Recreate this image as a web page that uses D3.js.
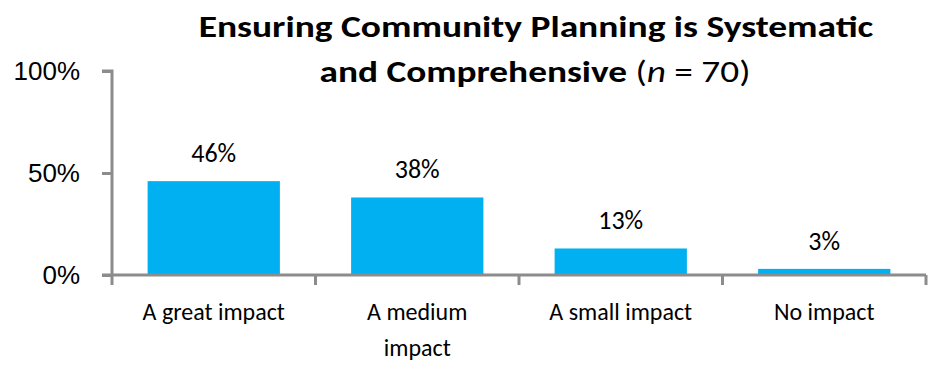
<!DOCTYPE html>
<html>
<head>
<meta charset="utf-8">
<script src="https://cdn.jsdelivr.net/npm/d3@7"></script>
<style>
  body { margin: 0; background: #fff; }
  svg { display: block; font-family: Carlito, Calibri, Lato, sans-serif; }
</style>
</head>
<body>
<svg id="chart" width="930" height="370"></svg>
<script>
// Share of respondents by level of impact
const categories = ["A great impact", "A medium impact", "A small impact", "No impact"];
const categoryLines = [["A great impact"], ["A medium", "impact"], ["A small impact"], ["No impact"]];
const values = [46, 38, 13, 3];
const yTicks = [0, 50, 100];

const svg = d3.select("#chart");
const W = 930, H = 370;
const margin = { left: 112, right: 4, top: 71, bottom: 95 };
const axisColor = "#8c8c8c";
const barColor = "#00b0f0";

const x = d3.scaleBand().domain(categories).range([margin.left, W - margin.right])
  .paddingInner(0.35).paddingOuter(0.175);
const y = d3.scaleLinear().domain([0, 100]).range([H - margin.bottom, margin.top]);

// bars
svg.append("g").selectAll("rect").data(values).join("rect")
  .attr("x", (d, i) => x(categories[i]))
  .attr("width", x.bandwidth())
  .attr("y", d => y(d))
  .attr("height", d => y(0) - y(d))
  .attr("fill", barColor);

// value labels
svg.append("g").selectAll("text").data(values).join("text")
  .attr("x", (d, i) => x(categories[i]) + x.bandwidth() / 2)
  .attr("y", d => y(d) - 19)
  .attr("text-anchor", "middle")
  .attr("font-size", 26)
  .attr("fill", "#000")
  .text(d => d + "%");

// y axis
const yAxis = svg.append("g").attr("transform", `translate(${margin.left},0)`)
  .call(d3.axisLeft(y).tickValues(yTicks).tickFormat(d => d + "%").tickSize(10).tickPadding(22));
yAxis.select(".domain").attr("stroke", axisColor).attr("stroke-width", 3).attr("d", `M-10,${y(100)}H0V${y(0)}`);
yAxis.selectAll(".tick line").attr("stroke", axisColor).attr("stroke-width", 3);
yAxis.selectAll(".tick text").attr("font-size", 26).attr("fill", "#000").attr("font-family", null);

// x axis line with ticks at category boundaries
const bounds = d3.range(categories.length + 1).map(i => margin.left + i * x.step());
svg.append("line")
  .attr("x1", margin.left - 10).attr("x2", W - margin.right)
  .attr("y1", y(0)).attr("y2", y(0))
  .attr("stroke", axisColor).attr("stroke-width", 3);
svg.append("g").selectAll("line").data(bounds).join("line")
  .attr("x1", d => d).attr("x2", d => d)
  .attr("y1", y(0)).attr("y2", y(0) + 10)
  .attr("stroke", axisColor).attr("stroke-width", 3);

// category labels
const xl = svg.append("g").selectAll("text").data(categoryLines).join("text")
  .attr("x", (d, i) => x(categories[i]) + x.bandwidth() / 2)
  .attr("y", y(0) + 45)
  .attr("text-anchor", "middle")
  .attr("font-size", 24)
  .attr("fill", "#000");
xl.selectAll("tspan").data(d => d).join("tspan")
  .attr("x", function () { return this.parentNode.getAttribute("x"); })
  .attr("dy", (d, i) => i === 0 ? 0 : 36)
  .text(d => d);

// title: two centred lines, each stretched to its set width
function titleLine(cx, baseline, width, parts) {
  const g = svg.append("g");
  const t = g.append("text").attr("text-anchor", "middle").attr("font-size", 31)
    .attr("fill", "#000").attr("x", 0).attr("y", baseline);
  parts.forEach(p => {
    t.append("tspan").attr("font-weight", p.bold ? "bold" : null)
      .attr("font-style", p.italic ? "italic" : null).text(p.text);
  });
  const sx = width / t.node().getComputedTextLength();
  g.attr("transform", `translate(${cx},0) scale(${sx},1)`);
}
titleLine(536, 37, 675, [{ text: "Ensuring Community Planning is Systematic", bold: true }]);
titleLine(535, 82, 431, [
  { text: "and Comprehensive ", bold: true },
  { text: "(" },
  { text: "n", italic: true },
  { text: " = 70)" }
]);
</script>
</body>
</html>
